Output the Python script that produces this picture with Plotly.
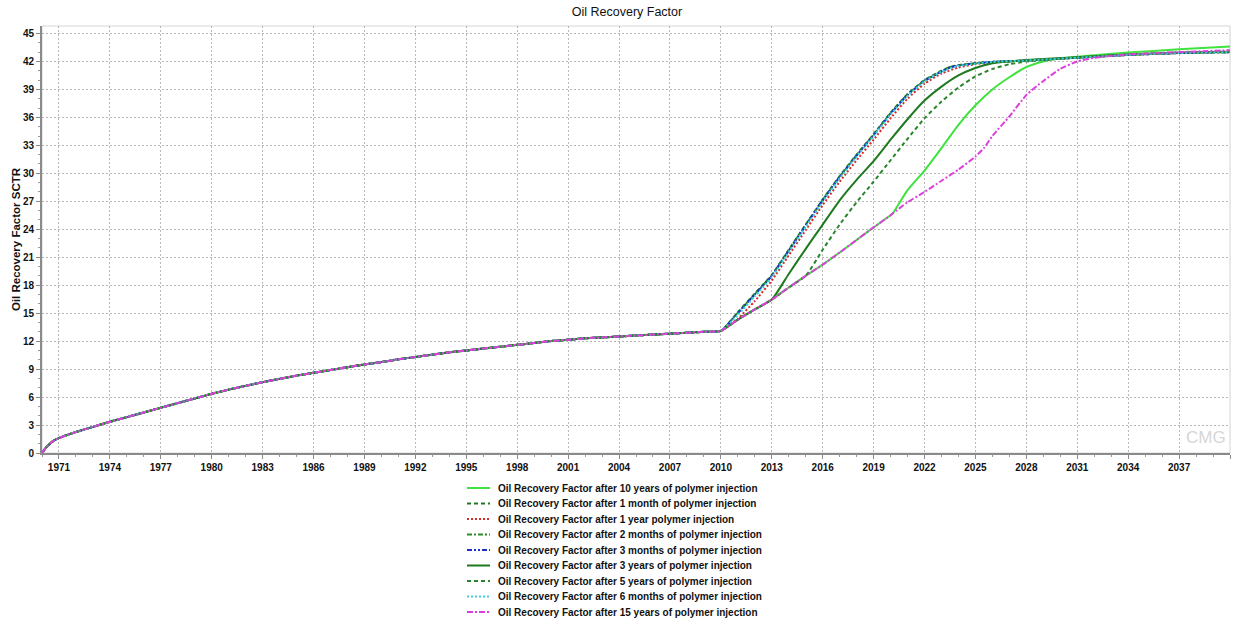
import plotly.graph_objects as go

# ---------------- data ----------------
# common history 1970-2010 (all cases overlap)
HIST_YEARS = [1970.0, 1970.25, 1970.5, 1970.75, 1971, 1971.5, 1972, 1973, 1974, 1975,
              1976, 1977, 1978, 1979, 1980, 1981, 1982, 1983, 1984, 1985, 1986, 1987,
              1988, 1989, 1990, 1991, 1992, 1993, 1994, 1995, 1996, 1997, 1998, 1999,
              2000, 2001, 2002, 2003, 2004, 2005, 2006, 2007, 2008, 2009, 2010]
HIST_RF = [0.0, 0.6, 1.05, 1.4, 1.6, 1.95, 2.25, 2.8, 3.35, 3.85,
           4.35, 4.85, 5.35, 5.85, 6.35, 6.8, 7.2, 7.6, 7.95, 8.3, 8.6, 8.9,
           9.2, 9.5, 9.75, 10.05, 10.3, 10.55, 10.8, 11.0, 11.2, 11.4, 11.6, 11.8,
           12.0, 12.15, 12.3, 12.4, 12.5, 12.6, 12.7, 12.8, 12.9, 13.0, 13.1]

# forecasts after 2010, one pair of lists per case
Y10_YEARS = [2011, 2012, 2013, 2014, 2015, 2016, 2017, 2018, 2019, 2020, 2020.13, 2021, 2022,
             2023, 2024, 2025, 2026, 2027, 2028, 2029, 2030, 2031, 2034, 2037, 2040]
Y10_RF = [14.3, 15.4, 16.45, 17.75, 19.0, 20.2, 21.5, 22.85, 24.2, 25.5, 25.7, 28.2, 30.3,
          32.7, 35.2, 37.3, 39.0, 40.3, 41.4, 42.0, 42.3, 42.5, 42.95, 43.3, 43.6]

M1_YEARS = [2011, 2012, 2013, 2014, 2015, 2016, 2017, 2018, 2019, 2020, 2021, 2022, 2023,
            2023.5, 2024, 2025, 2026, 2028, 2031, 2034, 2037, 2040]
M1_RF = [15.1, 17.1, 19.1, 21.8, 24.5, 27.2, 29.7, 32.0, 34.2, 36.5, 38.5, 40.0, 41.0,
         41.4, 41.6, 41.8, 41.95, 42.1, 42.4, 42.7, 42.9, 43.0]

Y1_YEARS = [2011, 2012, 2013, 2014, 2015, 2016, 2017, 2018, 2019, 2020, 2021, 2022, 2023,
            2024, 2025, 2026, 2028, 2031, 2034, 2037, 2040]
Y1_RF = [14.4, 16.3, 18.5, 21.2, 23.9, 26.6, 29.1, 31.4, 33.6, 35.9, 38.0, 39.6, 40.7,
         41.35, 41.7, 41.9, 42.1, 42.4, 42.7, 42.9, 43.0]

M2_YEARS = [2011, 2012, 2013, 2014, 2015, 2016, 2017, 2018, 2019, 2020, 2021, 2022, 2023,
            2023.5, 2024, 2025, 2026, 2028, 2031, 2034, 2037, 2040]
M2_RF = [15.05, 17.05, 19.05, 21.75, 24.45, 27.15, 29.65, 31.95, 34.15, 36.45, 38.45, 39.95, 40.95,
         41.4, 41.6, 41.8, 41.95, 42.1, 42.4, 42.7, 42.9, 43.0]

M3_YEARS = [2011, 2012, 2013, 2014, 2015, 2016, 2017, 2018, 2019, 2020, 2021, 2022, 2023,
            2023.5, 2024, 2025, 2026, 2028, 2031, 2034, 2037, 2040]
M3_RF = [15.0, 17.0, 19.0, 21.7, 24.4, 27.1, 29.6, 31.9, 34.1, 36.4, 38.4, 39.9, 40.9,
         41.35, 41.55, 41.8, 41.95, 42.1, 42.4, 42.7, 42.9, 43.0]

Y3_YEARS = [2011, 2012, 2013, 2014, 2015, 2016, 2017, 2018, 2019, 2020, 2021, 2022, 2023,
            2024, 2025, 2026, 2027, 2028, 2031, 2034, 2037, 2040]
Y3_RF = [14.3, 15.4, 16.45, 19.2, 21.9, 24.5, 27.1, 29.3, 31.3, 33.6, 35.8, 37.8, 39.3,
         40.5, 41.3, 41.8, 42.0, 42.15, 42.45, 42.75, 42.95, 43.05]

Y5_YEARS = [2011, 2012, 2013, 2014, 2015, 2016, 2017, 2018, 2019, 2020, 2021, 2022, 2023,
            2024, 2025, 2026, 2027, 2028, 2029, 2031, 2034, 2037, 2040]
Y5_RF = [14.3, 15.4, 16.45, 17.75, 19.0, 21.8, 24.5, 26.9, 29.1, 31.4, 33.7, 35.9, 37.7,
         39.2, 40.4, 41.2, 41.7, 42.0, 42.15, 42.4, 42.75, 42.95, 43.05]

M6_YEARS = [2011, 2012, 2013, 2014, 2015, 2016, 2017, 2018, 2019, 2020, 2021, 2022, 2023,
            2024, 2025, 2026, 2028, 2031, 2034, 2037, 2040]
M6_RF = [14.8, 16.8, 18.85, 21.55, 24.25, 26.95, 29.45, 31.8, 34.0, 36.3, 38.3, 39.85, 40.9,
         41.5, 41.75, 41.95, 42.1, 42.4, 42.7, 42.9, 43.0]

Y15_YEARS = [2011, 2012, 2013, 2014, 2015, 2016, 2017, 2018, 2019, 2020, 2020.13, 2021, 2022,
             2023, 2024, 2025, 2025.5, 2026, 2027, 2028, 2029, 2030, 2031, 2032, 2034, 2037, 2040]
Y15_RF = [14.3, 15.4, 16.45, 17.75, 19.0, 20.2, 21.5, 22.85, 24.2, 25.5, 25.7, 26.9, 28.0,
          29.2, 30.4, 31.8, 32.7, 34.0, 36.1, 38.4, 39.9, 41.2, 42.0, 42.4, 42.75, 43.0, 43.2]

NAMES = [
    "Oil Recovery Factor after 10 years of polymer injection",
    "Oil Recovery Factor after 1 month of polymer injection",
    "Oil Recovery Factor after 1 year polymer injection",
    "Oil Recovery Factor after 2 months of polymer injection",
    "Oil Recovery Factor after 3 months of polymer injection",
    "Oil Recovery Factor after 3 years of polymer injection",
    "Oil Recovery Factor after 5 years of polymer injection",
    "Oil Recovery Factor after 6 months of polymer injection",
    "Oil Recovery Factor after 15 years of polymer injection",
]
CASE_DATA = [(Y10_YEARS, Y10_RF), (M1_YEARS, M1_RF), (Y1_YEARS, Y1_RF), (M2_YEARS, M2_RF),
             (M3_YEARS, M3_RF), (Y3_YEARS, Y3_RF), (Y5_YEARS, Y5_RF), (M6_YEARS, M6_RF),
             (Y15_YEARS, Y15_RF)]

# ---------------- styles ----------------
COLORS = ["#3fe23f", "#1f7a1f", "#d62a2a", "#2a8c2a", "#1d2fc4", "#1e7a1e", "#2a862a",
          "#3ccfe0", "#dd3fdd"]
DASHES = ["solid", "4px,3px", "2px,2px", "5px,2px,2px,2px", "5px,2px,2px,2px,2px,2px",
          "solid", "4px,3px", "2px,2px", "6px,2px,2px,2px"]

FONT = "Arial, Liberation Sans, sans-serif"
W, H = 1238, 622
ML, MR, MT, MB = 42, 8, 26, 169
PW, PH = W - ML - MR, H - MT - MB


def px_x(px):
    return (px - ML) / PW


def px_y(py):
    return (H - MB - py) / PH


fig = go.Figure()
for name, (yrs, rf), col, dash in zip(NAMES, CASE_DATA, COLORS, DASHES):
    fig.add_trace(go.Scatter(
        x=HIST_YEARS + yrs, y=HIST_RF + rf, mode="lines", name=name,
        line=dict(color=col, width=2, dash=dash, shape="spline", smoothing=0.5),
        showlegend=False))

# legend drawn as shapes + text to match the compact spacing of the original
shapes = [dict(type="rect", xref="paper", yref="paper", x0=0, x1=1, y0=0, y1=1,
               line=dict(color="#d4d4d4", width=1), layer="below")]
annotations = []
LEG_TOP, LEG_STEP = 488, 15.5
for i, (name, col, dash) in enumerate(zip(NAMES, COLORS, DASHES)):
    yc = px_y(LEG_TOP + i * LEG_STEP)
    shapes.append(dict(type="line", xref="paper", yref="paper", x0=px_x(467), x1=px_x(490),
                       y0=yc, y1=yc, line=dict(color=col, width=2, dash=dash)))
    annotations.append(dict(xref="paper", yref="paper", x=px_x(496), y=yc, xanchor="left",
                            yanchor="middle", showarrow=False, text=name,
                            font=dict(family=FONT, size=10, color="#111111", weight="bold")))

annotations.append(dict(xref="paper", yref="paper", x=px_x(1206), y=px_y(437), showarrow=False,
                        text="CMG", xanchor="center", yanchor="middle",
                        font=dict(family=FONT, size=17, color="#d6d6d6")))

fig.update_layout(
    width=W, height=H,
    margin=dict(l=ML, r=MR, t=MT, b=MB, pad=0),
    paper_bgcolor="white", plot_bgcolor="white",
    title=dict(text="Oil Recovery Factor", x=627 / W, xanchor="center",
               y=1 - 12 / H, yanchor="middle",
               font=dict(family=FONT, size=12.5, color="#111111")),
    font=dict(family=FONT, color="#111111"),
    showlegend=False,
    shapes=shapes,
    annotations=annotations,
    xaxis=dict(range=[1970, 2040], tick0=1971, dtick=3, tickformat="d",
               showgrid=True, gridcolor="#b8b8b8", griddash="2px,2px", gridwidth=1,
               showline=True, linecolor="#8a8a8a", linewidth=2,
               ticks="outside", ticklen=4, tickcolor="#8a8a8a",
               minor=dict(dtick=1, ticks="outside", ticklen=2, tickcolor="#9a9a9a", showgrid=False),
               tickfont=dict(family=FONT, size=10, color="#111111", weight="bold"),
               zeroline=False),
    yaxis=dict(range=[0, 45.8], tick0=0, dtick=3,
               showgrid=True, gridcolor="#b8b8b8", griddash="2px,2px", gridwidth=1,
               showline=True, linecolor="#8a8a8a", linewidth=2,
               ticks="outside", ticklen=4, tickcolor="#8a8a8a",
               minor=dict(dtick=1, ticks="outside", ticklen=2, tickcolor="#9a9a9a", showgrid=False),
               tickfont=dict(family=FONT, size=10, color="#111111", weight="bold"),
               title=dict(text="Oil Recovery Factor SCTR", standoff=0,
                          font=dict(family=FONT, size=11.5, color="#111111", weight="bold")),
               zeroline=False),
)

fig.write_html("out.html")
